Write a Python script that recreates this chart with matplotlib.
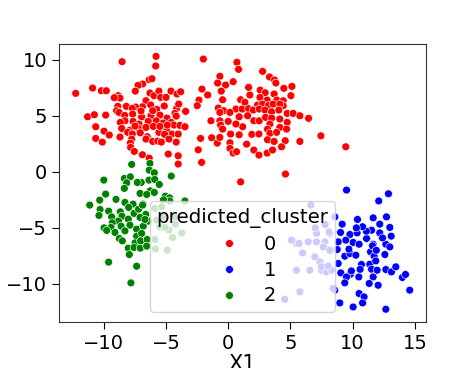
import numpy as np
import pandas as pd
import seaborn as sns
import matplotlib
matplotlib.use("Agg")
import matplotlib.pyplot as plt

# points, (X1, X2) per predicted cluster
cluster0 = [
    (-8.53, 9.82), (-5.8, 10.3), (-5.83, 9.44), (-12.26, 7.0), (-10.9, 7.47), (-10.2, 7.23),
    (-9.8, 7.23), (-6.35, 8.21), (-6.13, 8.3), (-6.88, 7.83), (-7.25, 7.71), (-7.47, 7.2),
    (-8.83, 6.79), (-8.7, 6.58), (-9.16, 6.61), (-6.61, 6.34), (-6.29, 7.03), (-5.97, 6.79),
    (-5.57, 7.2), (-5.43, 6.64), (-5.0, 6.64), (-4.6, 7.2), (-4.12, 6.94), (-3.82, 7.14),
    (-6.9, 5.8), (-6.23, 5.96), (-5.75, 5.57), (-5.14, 5.87), (-7.44, 5.78), (-8.88, 5.84),
    (-8.97, 5.45), (-8.19, 5.84), (-7.71, 5.66), (-4.14, 5.66), (-3.98, 6.04), (-3.45, 5.39),
    (-4.28, 5.21), (-11.3, 4.91), (-10.76, 5.09), (-9.85, 5.06), (-8.78, 5.3), (-8.32, 5.03),
    (-7.68, 5.15), (-6.96, 4.91), (-6.21, 5.0), (-5.49, 5.06), (-4.92, 4.79), (-4.18, 4.97),
    (-8.3, 4.55), (-7.65, 4.5), (-7.17, 4.26), (-6.43, 4.5), (-5.78, 4.55), (-5.24, 4.35),
    (-4.58, 4.41), (-4.36, 4.17), (-3.88, 4.14), (-3.45, 4.05), (-8.67, 4.41), (-8.56, 3.87),
    (-7.9, 3.72), (-7.23, 3.9), (-6.61, 3.96), (-6.02, 4.05), (-5.33, 3.81), (-4.92, 3.66),
    (-4.52, 3.37), (-4.02, 3.37), (-10.65, 4.02), (-9.98, 3.63), (-9.56, 3.28), (-8.08, 3.52),
    (-7.71, 3.37), (-7.07, 3.48), (-6.51, 3.13), (-5.57, 3.52), (-5.11, 3.34), (-10.65, 2.98),
    (-10.12, 2.65), (-8.7, 3.1), (-7.76, 2.92), (-7.87, 2.56), (-7.84, 2.18), (-7.55, 1.82),
    (-6.9, 1.52), (-6.61, 2.92), (-6.07, 2.71), (-5.67, 2.74), (-5.38, 2.65), (-4.76, 2.92),
    (-4.18, 2.65), (-6.35, 1.22), (-4.82, 1.58), (-4.02, 1.43), (-4.02, 0.69), (-7.01, 5.42),
    (-6.07, 5.45), (-7.49, 4.08), (-5.49, 4.05), (-4.9, 4.17), (-3.42, 5.39), (-3.48, 4.02),
    (-2.0, 10.06), (0.7, 9.77), (0.83, 9.14), (2.76, 8.96), (3.32, 8.46), (3.72, 8.19),
    (3.83, 7.92), (-0.67, 8.52), (-0.85, 7.92), (-0.21, 7.74), (0.4, 8.04), (-2.11, 7.38),
    (-1.65, 6.85), (-0.56, 7.2), (-0.45, 6.43), (-2.35, 6.4), (-2.49, 5.9), (1.64, 7.53),
    (1.74, 6.85), (1.0, 6.43), (1.34, 6.2), (2.57, 7.29), (2.97, 7.05), (3.69, 6.94),
    (4.47, 7.45), (5.12, 7.62), (5.04, 6.79), (2.55, 6.64), (3.13, 6.4), (3.91, 6.4),
    (4.42, 6.34), (4.42, 5.9), (2.36, 5.96), (2.76, 6.04), (3.21, 5.9), (3.61, 6.04),
    (4.15, 6.04), (-0.8, 5.69), (-0.37, 5.45), (0.62, 5.6), (1.12, 5.6), (1.64, 5.63),
    (2.01, 5.51), (2.49, 5.6), (2.95, 5.51), (3.49, 5.36), (4.07, 5.51), (4.74, 5.21),
    (5.22, 5.21), (5.76, 5.0), (6.46, 4.77), (-1.39, 4.55), (-0.67, 5.3), (-0.67, 4.55),
    (0.14, 5.3), (0.0, 4.5), (0.88, 4.91), (1.56, 5.0), (2.06, 4.55), (2.49, 4.55),
    (3.0, 4.86), (3.49, 4.79), (4.15, 4.71), (4.74, 4.41), (-0.61, 4.17), (-0.45, 3.81),
    (1.16, 4.02), (0.62, 4.26), (3.35, 4.26), (4.15, 3.96), (4.69, 3.81), (3.16, 3.81),
    (0.19, 3.37), (0.88, 3.3), (1.9, 3.34), (2.47, 3.37), (3.35, 3.43), (3.89, 3.52),
    (-2.22, 2.98), (-1.33, 3.04), (-0.88, 2.56), (-0.67, 3.07), (0.14, 2.59), (1.48, 2.47),
    (3.16, 2.86), (3.69, 2.71), (4.58, 2.77), (5.76, 2.71), (7.45, 3.21), (-2.41, 1.96),
    (0.14, 2.09), (0.4, 1.67), (0.67, 1.79), (2.06, 1.94), (2.47, 1.49), (3.13, 1.67),
    (3.56, 1.94), (4.29, 2.23), (-2.14, 0.84), (1.0, -0.9), (4.6, -0.2), (9.45, 2.23),
]

cluster1 = [
    (9.51, -1.63), (12.88, -1.96), (12.1, -2.6), (8.57, -4.02), (9.16, -4.67), (10.39, -4.25),
    (11.65, -4.11), (12.72, -4.02), (12.18, -4.67), (12.99, -4.96), (9.03, -5.41), (9.78, -5.59),
    (10.36, -5.45), (11.52, -5.21), (12.18, -5.45), (13.1, -5.74), (11.12, -5.95), (9.45, -6.1),
    (10.04, -6.3), (10.52, -6.46), (11.65, -6.46), (12.67, -6.46), (12.99, -6.7), (8.76, -6.93),
    (9.37, -7.53), (9.78, -7.29), (10.26, -7.44), (11.44, -7.14), (11.73, -7.53), (12.59, -7.38),
    (10.71, -8.27), (11.38, -8.24), (11.86, -7.95), (8.84, -8.18), (11.52, -8.69), (11.97, -8.78),
    (12.67, -8.72), (13.12, -8.93), (13.47, -8.48), (9.05, -9.02), (9.83, -9.13), (10.5, -9.38),
    (9.51, -9.38), (11.65, -9.38), (14.0, -9.43), (14.25, -9.16), (9.37, -9.91), (11.33, -9.96),
    (12.05, -10.12), (14.59, -10.56), (10.52, -10.86), (10.92, -11.16), (8.97, -11.7), (10.8, -11.7),
    (10.04, -12.06), (12.67, -12.26), (8.84, -6.25), (11.6, -6.6), (9.9, -8.84), (10.6, -8.7),
    (11.1, -5.3), (10.8, -4.9), (12.4, -5.9), (11.9, -7.0), (9.7, -6.9), (10.3, -5.0),
    (6.64, -2.97), (7.1, -5.5), (5.49, -6.39), (5.7, -6.39), (5.09, -6.1), (5.98, -7.23),
    (6.43, -6.25), (5.49, -8.78), (6.56, -8.78), (7.37, -8.04), (7.5, -8.78), (7.9, -8.93),
    (8.17, -5.5), (7.77, -6.25), (7.64, -6.7), (8.17, -7.0), (8.31, -8.78), (5.76, -10.71),
    (4.55, -11.37), (8.57, -10.56), (6.96, -7.59), (7.1, -6.25), (8.11, -5.36), (7.5, -8.48),
    (8.03, -8.4), (8.43, -10.4), (7.0, -5.0), (7.8, -4.7),
]

cluster2 = [
    (-7.76, 0.66), (-6.29, 0.75), (-6.35, 0.15), (-5.94, -0.09), (-10.0, -0.74), (-8.35, -0.59),
    (-7.87, -0.45), (-8.16, -0.98), (-6.99, -0.95), (-7.31, -0.95), (-6.37, -0.74), (-5.91, -0.68),
    (-4.58, -0.38), (-5.54, -1.13), (-8.35, -1.48), (-9.85, -1.99), (-7.09, -1.93), (-6.27, -1.7),
    (-5.94, -1.84), (-6.55, -2.02), (-5.06, -2.17), (-4.71, -2.32), (-10.33, -2.53), (-9.02, -2.46),
    (-8.3, -2.73), (-7.65, -2.88), (-6.85, -2.88), (-11.13, -2.97), (-10.3, -3.36), (-10.39, -3.89),
    (-9.61, -3.51), (-8.67, -3.57), (-8.0, -3.18), (-7.57, -3.71), (-7.2, -3.33), (-6.63, -3.8),
    (-9.37, -4.02), (-8.54, -3.96), (-8.83, -4.4), (-8.03, -4.22), (-7.09, -4.07), (-6.43, -4.4),
    (-9.32, -4.55), (-9.98, -5.0), (-9.42, -4.96), (-8.61, -4.85), (-7.9, -4.76), (-7.36, -5.12),
    (-6.83, -4.85), (-9.77, -5.23), (-8.3, -5.27), (-9.1, -5.41), (-7.36, -5.74), (-6.96, -5.5),
    (-8.75, -5.95), (-8.51, -6.16), (-7.49, -6.34), (-7.04, -6.16), (-6.51, -6.04), (-8.03, -6.81),
    (-7.57, -6.75), (-7.07, -6.81), (-6.55, -6.63), (-7.95, -7.38), (-9.61, -8.06), (-7.36, -8.42),
    (-7.82, -9.91), (-6.69, -4.25), (-6.88, -2.97),
    (-5.75, -4.31), (-5.49, -4.91), (-4.76, -5.21), (-4.23, -4.67), (-3.74, -5.45), (-4.47, -5.86),
    (-5.89, -6.04), (-5.86, -6.88), (-4.9, -6.99), (-5.24, -4.02), (-3.48, -2.6), (-4.7, -2.6),
    (-5.2, -2.5), (-5.08, -4.96), (-5.89, -3.27), (-5.35, -3.13), (-4.28, -4.02),
]

colors = {0: "red", 1: "blue", 2: "green"}

rows = []
for k, pts in enumerate([cluster0, cluster1, cluster2]):
    for x1, x2 in pts:
        rows.append((x1, x2, k))
df = pd.DataFrame(rows, columns=["X1", "X2", "predicted_cluster"])

plt.rcParams.update({
    "xtick.labelsize": 14,
    "ytick.labelsize": 14,
    "axes.labelsize": 15,
    "legend.fontsize": 14,
    "legend.title_fontsize": 14.3,
    "xtick.major.size": 5,
    "ytick.major.size": 5,
})

fig = plt.figure(figsize=(4.74, 3.68), dpi=100)
ax = fig.add_axes([0.1245, 0.125, 0.7743, 0.7554])
sns.scatterplot(data=df, x="X1", y="X2", hue="predicted_cluster",
                palette=colors, s=32, ax=ax)
ax.set_xlim(-13.6, 15.9)
ax.set_ylim(-13.4, 11.4)
ax.set_xticks([-10, -5, 0, 5, 10, 15])
ax.set_yticks([-10, -5, 0, 5, 10])
ax.set_xlabel("X1", labelpad=1)
for sp in ax.spines.values():
    sp.set_color(".2")
ax.legend(title="predicted_cluster", loc="lower center",
          labelspacing=0.35, borderpad=0.35)

fig.savefig("out.png", dpi=100)
